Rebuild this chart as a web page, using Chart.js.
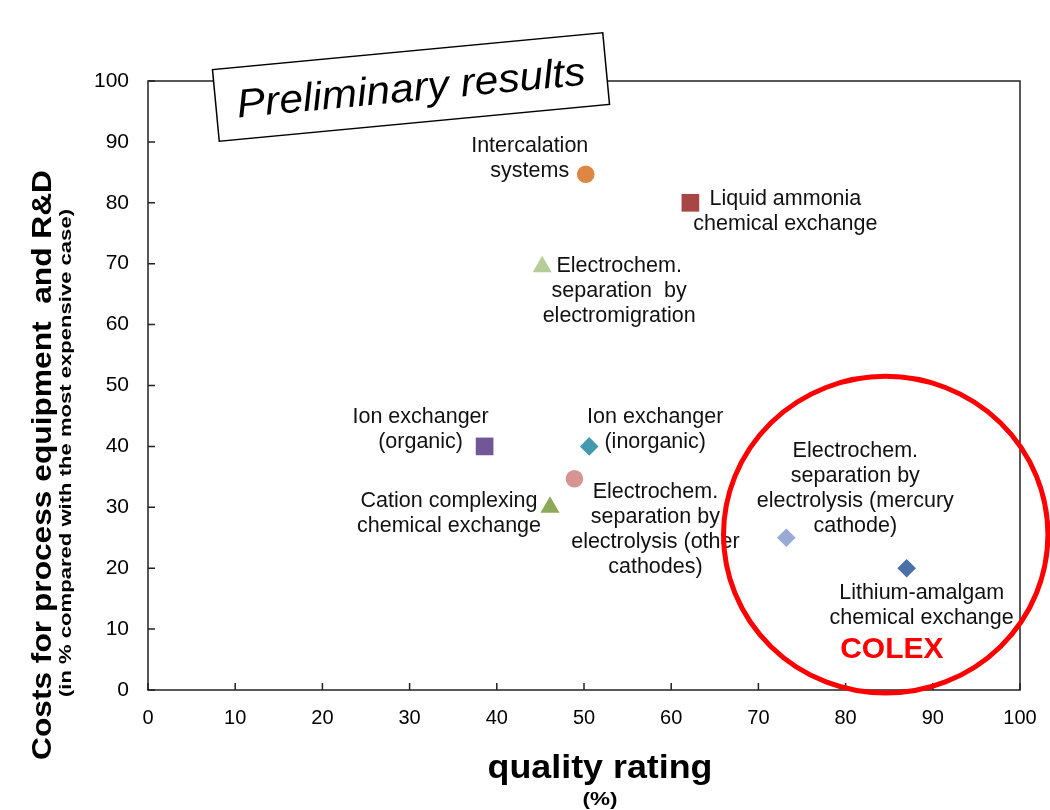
<!DOCTYPE html>
<html lang="en">
<head>
  <meta charset="UTF-8">
  <title>Costs vs quality rating</title>
  <script src="https://cdn.jsdelivr.net/npm/chart.js"></script>
  <style>
    html, body {
      margin: 0;
      padding: 0;
      background: #fff;
    }
    .chart-box {
      width: 1050px;
      height: 810px;
      position: relative;
    }
  </style>
</head>
<body>
  <div class="chart-box"><canvas id="chart"></canvas></div>

  <script>
    // --- data ---
    const processNames = [
      'Intercalation systems',
      'Liquid ammonia chemical exchange',
      'Electrochem. separation by electromigration',
      'Ion exchanger (organic)',
      'Ion exchanger (inorganic)',
      'Electrochem. separation by electrolysis (other cathodes)',
      'Cation complexing chemical exchange',
      'Electrochem. separation by electrolysis (mercury cathode)',
      'Lithium-amalgam chemical exchange'
    ];
    const qualityRating = [50.2, 62.2, 45.2, 38.6, 50.6, 48.9, 46.1, 73.2, 87.0];
    const processCost = [84.7, 80, 69.5, 40, 40, 34.7, 30, 25, 20];
    const labelLines = [
      ['Intercalation', 'systems'],
      ['Liquid ammonia', 'chemical exchange'],
      ['Electrochem.', 'separation  by', 'electromigration'],
      ['Ion exchanger', '(organic)'],
      ['Ion exchanger', '(inorganic)'],
      ['Electrochem.', 'separation by', 'electrolysis (other', 'cathodes)'],
      ['Cation complexing', 'chemical exchange'],
      ['Electrochem.', 'separation by', 'electrolysis (mercury', 'cathode)'],
      ['Lithium-amalgam', 'chemical exchange']
    ];
    const xTickValues = [0, 10, 20, 30, 40, 50, 60, 70, 80, 90, 100];
    const yTickValues = [0, 10, 20, 30, 40, 50, 60, 70, 80, 90, 100];

    const yTitle = 'Costs for process equipment  and R&D';
    const ySubTitle = '(in % compared with the most expensive case)';
    const xTitle = 'quality rating';
    const xSubTitle = '(%)';
    const stampText = 'Preliminary results';
    const ringText = 'COLEX';

    // --- styling ---
    const markerStyle = ['circle', 'rect', 'triangle', 'rect', 'rectRot', 'circle', 'triangle', 'rectRot', 'rectRot'];
    const markerColor = ['#de8744', '#a84646', '#b5cd98', '#715797', '#4499b0', '#d69493', '#8ba957', '#97abd4', '#4a70a6'];
    const markerRadius = [8.8, 12.5, 11, 12.5, 9.3, 8.8, 11, 9.3, 9.3];
    // offset (px) of first label line centre from the marker
    const labelOffset = [[-56, -28], [95, -4], [77, -1], [-64, -29], [66, -29], [81, 13], [-101, -6], [69, -87], [15, 25]];
    // ring around the COLEX area, in data units
    const ring = { x: 84.6, y: 25.5, rx: 18.6, ry: 26 };
    const ringLabel = { x: 85.3, y: 6.6 };

    const FONT = '"Liberation Sans", Arial, sans-serif';

    // draw text squeezed/stretched to a given width
    function fitText(ctx, text, font, width) {
      ctx.font = font;
      const w = ctx.measureText(text).width;
      ctx.save();
      ctx.scale(width / w, 1);
      ctx.fillText(text, 0, 0);
      ctx.restore();
    }

    const overlay = {
      id: 'overlay',
      afterDraw(chart) {
        const { ctx, chartArea: a, scales: { x, y } } = chart;
        ctx.save();

        // frame + inward ticks
        ctx.strokeStyle = '#222';
        ctx.lineWidth = 1.5;
        ctx.strokeRect(a.left, a.top, a.right - a.left, a.bottom - a.top);
        ctx.beginPath();
        y.ticks.forEach(t => {
          const py = y.getPixelForValue(t.value);
          ctx.moveTo(a.left, py);
          ctx.lineTo(a.left + 7, py);
        });
        x.ticks.forEach(t => {
          const px = x.getPixelForValue(t.value);
          ctx.moveTo(px, a.bottom);
          ctx.lineTo(px, a.bottom - 7);
        });
        ctx.stroke();

        // point labels
        ctx.font = '21.5px ' + FONT;
        ctx.fillStyle = '#111';
        ctx.textAlign = 'center';
        ctx.textBaseline = 'middle';
        chart.data.datasets.forEach((ds, i) => {
          const pt = chart.getDatasetMeta(i).data[0];
          const [dx, dy] = labelOffset[i];
          labelLines[i].forEach((line, k) => {
            ctx.fillText(line, pt.x + dx, pt.y + dy + k * 25);
          });
        });

        // red ring + COLEX
        const cx = x.getPixelForValue(ring.x);
        const cy = y.getPixelForValue(ring.y);
        const rx = x.getPixelForValue(ring.x + ring.rx) - cx;
        const ry = cy - y.getPixelForValue(ring.y + ring.ry);
        ctx.beginPath();
        ctx.ellipse(cx, cy, rx, ry, 0, 0, Math.PI * 2);
        ctx.strokeStyle = '#ff0000';
        ctx.lineWidth = 5;
        ctx.stroke();
        ctx.fillStyle = '#ff0000';
        ctx.font = 'bold 30px ' + FONT;
        ctx.fillText(ringText, x.getPixelForValue(ringLabel.x), y.getPixelForValue(ringLabel.y));

        // axis titles
        ctx.fillStyle = '#000';
        ctx.textBaseline = 'alphabetic';
        ctx.save();
        ctx.translate(51, 465);
        ctx.rotate(-Math.PI / 2);
        fitText(ctx, yTitle, 'bold 28px ' + FONT, 590);
        ctx.restore();
        ctx.save();
        ctx.translate(71, 453);
        ctx.rotate(-Math.PI / 2);
        fitText(ctx, ySubTitle, 'bold 16px ' + FONT, 488);
        ctx.restore();
        ctx.save();
        ctx.translate(600, 778);
        fitText(ctx, xTitle, 'bold 34px ' + FONT, 225);
        ctx.restore();
        ctx.save();
        ctx.translate(600, 805);
        fitText(ctx, xSubTitle, 'bold 19px ' + FONT, 35);
        ctx.restore();

        // "Preliminary results" stamp
        ctx.save();
        ctx.translate(411, 87);
        ctx.rotate(-5.4 * Math.PI / 180);
        ctx.fillStyle = '#fff';
        ctx.fillRect(-196, -36, 392, 72);
        ctx.strokeStyle = '#000';
        ctx.lineWidth = 1.5;
        ctx.strokeRect(-196, -36, 392, 72);
        ctx.fillStyle = '#000';
        ctx.textBaseline = 'middle';
        ctx.translate(0, 3);
        fitText(ctx, stampText, 'italic 40px ' + FONT, 350);
        ctx.restore();

        ctx.restore();
      }
    };

    const datasets = processNames.map((name, i) => ({
      label: name,
      data: [{ x: qualityRating[i], y: processCost[i] }],
      pointStyle: markerStyle[i],
      pointRadius: markerRadius[i],
      pointHoverRadius: markerRadius[i],
      backgroundColor: markerColor[i],
      borderColor: markerColor[i],
      borderWidth: 0,
      showLine: false
    }));

    new Chart(document.getElementById('chart').getContext('2d'), {
      type: 'scatter',
      data: { datasets },
      options: {
        responsive: true,
        maintainAspectRatio: false,
        animation: false,
        layout: { padding: { left: 0, top: 81, right: 30, bottom: 0 } },
        plugins: {
          legend: { display: false },
          tooltip: { enabled: false }
        },
        scales: {
          x: {
            min: 0,
            max: 100,
            afterBuildTicks: s => { s.ticks = xTickValues.map(v => ({ value: v })); },
            afterFit: s => { s.height = 120; },
            grid: { display: false },
            border: { display: false },
            ticks: { color: '#000', padding: 8, font: { size: 20, family: FONT } }
          },
          y: {
            min: 0,
            max: 100,
            afterBuildTicks: s => { s.ticks = yTickValues.map(v => ({ value: v })); },
            afterFit: s => { s.width = 148; },
            grid: { display: false },
            border: { display: false },
            ticks: { color: '#000', padding: 11, font: { size: 21, family: FONT } }
          }
        }
      },
      plugins: [overlay]
    });
  </script>
</body>
</html>
